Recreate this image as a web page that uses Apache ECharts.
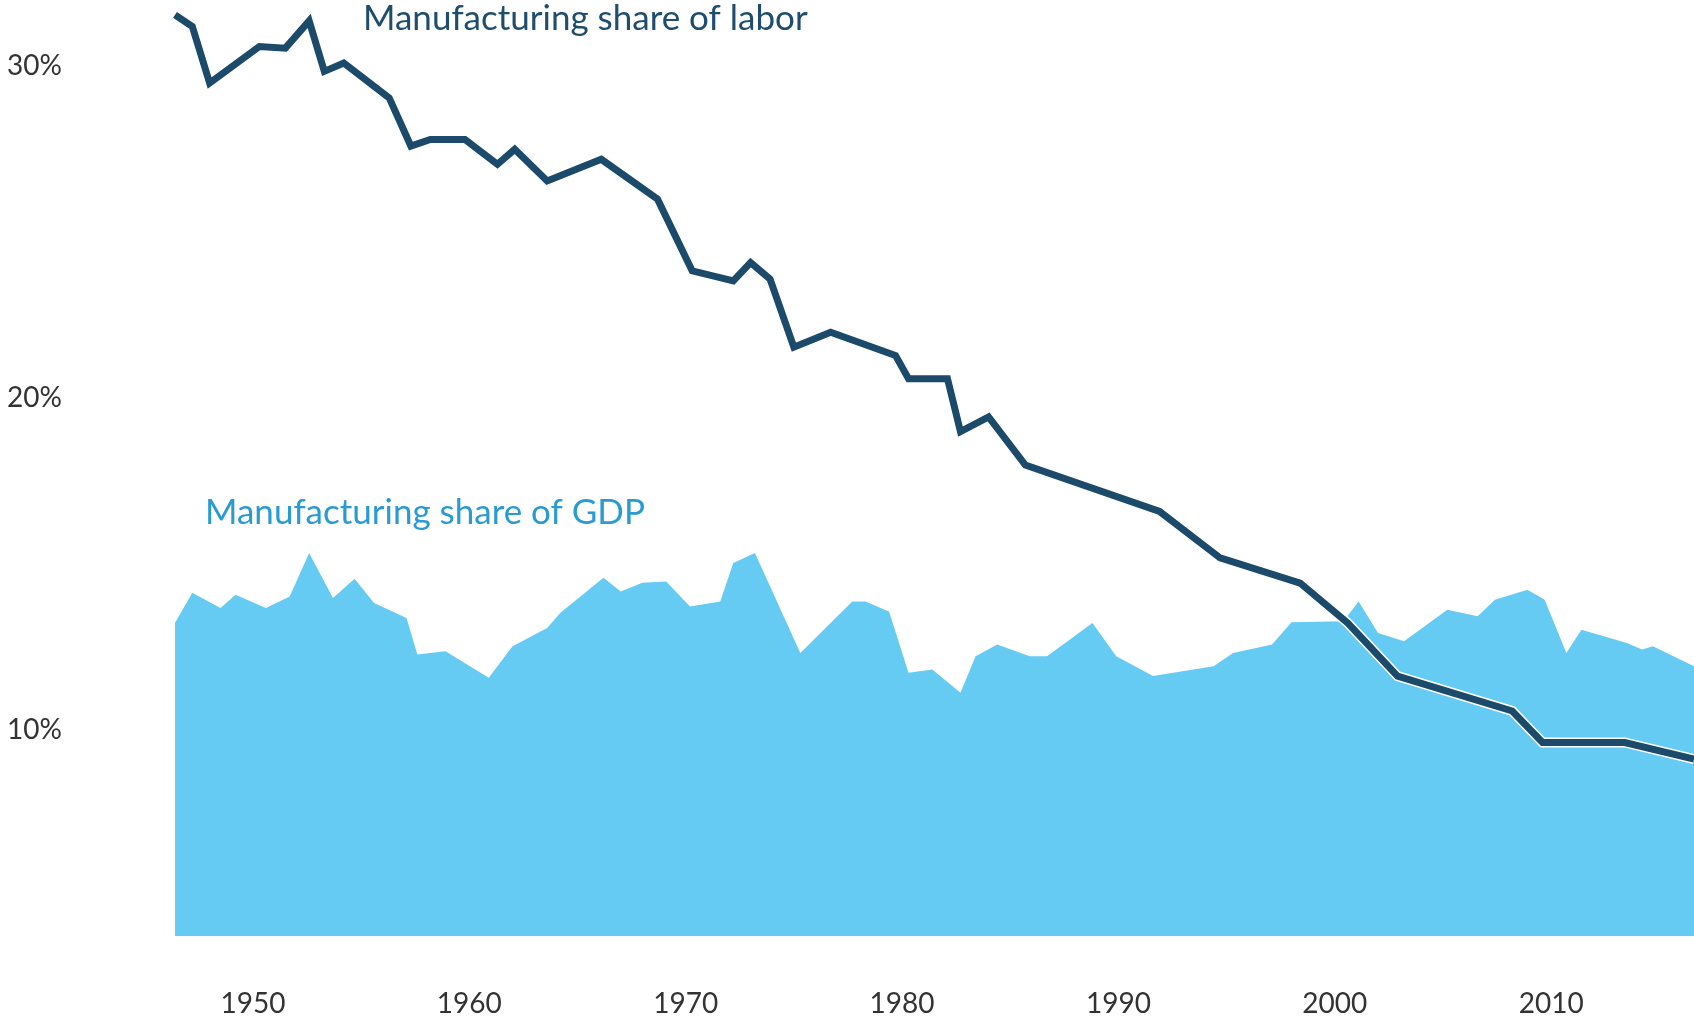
<!DOCTYPE html>
<html>
<head>
<meta charset="utf-8">
<title>Manufacturing share of labor and GDP</title>
<script src="https://cdn.jsdelivr.net/npm/echarts@6.0.0/dist/echarts.min.js"></script>
<style>
  html, body { margin: 0; padding: 0; background: #fff; }
  #chart { width: 1694px; height: 1024px; }
</style>
</head>
<body>
<div id="chart"></div>
<script>
// vertices, x in years (the source isn't strictly annual)
var laborYears = [1946.4, 1947.2, 1948.0, 1950.3, 1951.5, 1952.6, 1953.3, 1954.2, 1956.3, 1957.3,
  1958.2, 1959.8, 1961.3, 1962.1, 1963.6, 1966.1, 1968.7, 1970.3, 1972.2, 1973.0,
  1973.9, 1975.0, 1976.7, 1979.7, 1980.3, 1982.1, 1982.7, 1984.0, 1985.7, 1991.9,
  1994.7, 1998.4, 2000.6, 2002.9, 2008.2, 2009.6, 2013.4, 2016.6];
var laborShare = [31.55, 31.2, 29.5, 30.6, 30.55, 31.37, 29.85, 30.1, 29.05, 27.6,
  27.8, 27.8, 27.05, 27.5, 26.55, 27.2, 26.0, 23.84, 23.54, 24.09,
  23.59, 21.54, 21.99, 21.29, 20.59, 20.59, 19.0, 19.44, 17.99, 16.59,
  15.19, 14.43, 13.23, 11.63, 10.58, 9.63, 9.63, 9.13];

var gdpYears = [1946.4, 1947.2, 1948.5, 1949.2, 1950.6, 1951.7, 1952.6, 1953.7, 1954.7, 1955.6,
  1957.1, 1957.6, 1958.9, 1960.9, 1962.0, 1963.6, 1964.2, 1966.2, 1967.0, 1968.0,
  1969.1, 1970.2, 1971.6, 1972.2, 1973.2, 1975.3, 1977.7, 1978.3, 1979.4, 1980.3,
  1981.4, 1982.7, 1983.4, 1984.4, 1985.9, 1986.7, 1988.8, 1989.9, 1991.6, 1994.4,
  1995.3, 1997.1, 1998.0, 2000.4, 2001.1, 2002.0, 2003.2, 2005.2, 2006.6, 2007.4,
  2008.9, 2009.7, 2010.7, 2011.4, 2013.5, 2014.2, 2014.7, 2016.6];
var gdpShare = [13.23, 14.14, 13.68, 14.08, 13.68, 14.03, 15.34, 13.98, 14.56, 13.83,
  13.38, 12.28, 12.38, 11.58, 12.53, 13.08, 13.53, 14.59, 14.18, 14.44,
  14.48, 13.73, 13.88, 15.04, 15.34, 12.33, 13.88, 13.88, 13.58, 11.73,
  11.83, 11.13, 12.23, 12.58, 12.23, 12.23, 13.23, 12.23, 11.63, 11.93,
  12.33, 12.58, 13.25, 13.28, 13.88, 12.93, 12.68, 13.63, 13.43, 13.93,
  14.23, 13.93, 12.33, 13.03, 12.63, 12.43, 12.53, 11.93];

var yearTicks = [1950, 1960, 1970, 1980, 1990, 2000, 2010];
var pctTicks = [10, 20, 30];

function toPairs(xs, ys) {
  var out = [];
  for (var i = 0; i < xs.length; i++) {
    out.push([xs[i], ys[i]]);
  }
  return out;
}

var labelFont = "Lato";
var chart = echarts.init(document.getElementById("chart"));

chart.setOption({
  animation: false,
  backgroundColor: "#ffffff",
  grid: {
    left: 175,
    right: 0,
    top: 0,
    bottom: 88,
    containLabel: false,
    outerBoundsMode: "none"
  },
  xAxis: {
    type: "value",
    min: 1946.4,
    max: 2016.6,
    axisLine: { show: false },
    axisTick: { show: false },
    splitLine: { show: false },
    axisLabel: {
      customValues: yearTicks,
      formatter: function (v) {
        return String(Math.round(v));
      },
      margin: 54,
      fontSize: 28,
      fontFamily: labelFont,
      color: "#333333"
    }
  },
  yAxis: {
    type: "value",
    min: 3.8,
    max: 32,
    axisLine: { show: false },
    axisTick: { show: false },
    splitLine: { show: false },
    axisLabel: {
      customValues: pctTicks,
      formatter: "{value}%",
      margin: 113,
      fontSize: 28,
      fontFamily: labelFont,
      color: "#333333"
    }
  },
  graphic: [
    {
      type: "text",
      left: 363,
      top: 1,
      style: {
        text: "Manufacturing share of labor",
        fill: "#1f4d6e",
        font: "35px Lato"
      }
    },
    {
      type: "text",
      left: 205,
      top: 495,
      style: {
        text: "Manufacturing share of GDP",
        fill: "#2a9bd0",
        font: "35px Lato"
      }
    }
  ],
  series: [
    {
      name: "Manufacturing share of GDP",
      type: "line",
      data: toPairs(gdpYears, gdpShare),
      symbol: "none",
      silent: true,
      z: 1,
      lineStyle: { width: 0 },
      areaStyle: {
        color: "#65cbf2",
        opacity: 1,
        origin: "start"
      }
    },
    {
      // thin white edge around the labor line
      name: "labor outline",
      type: "line",
      data: toPairs(laborYears, laborShare),
      symbol: "none",
      silent: true,
      z: 2,
      lineStyle: { color: "#ffffff", width: 10, join: "miter", cap: "butt" }
    },
    {
      name: "Manufacturing share of labor",
      type: "line",
      data: toPairs(laborYears, laborShare),
      symbol: "none",
      z: 3,
      lineStyle: { color: "#1b4a6b", width: 7, join: "miter", cap: "butt" }
    }
  ]
});
</script>
</body>
</html>
